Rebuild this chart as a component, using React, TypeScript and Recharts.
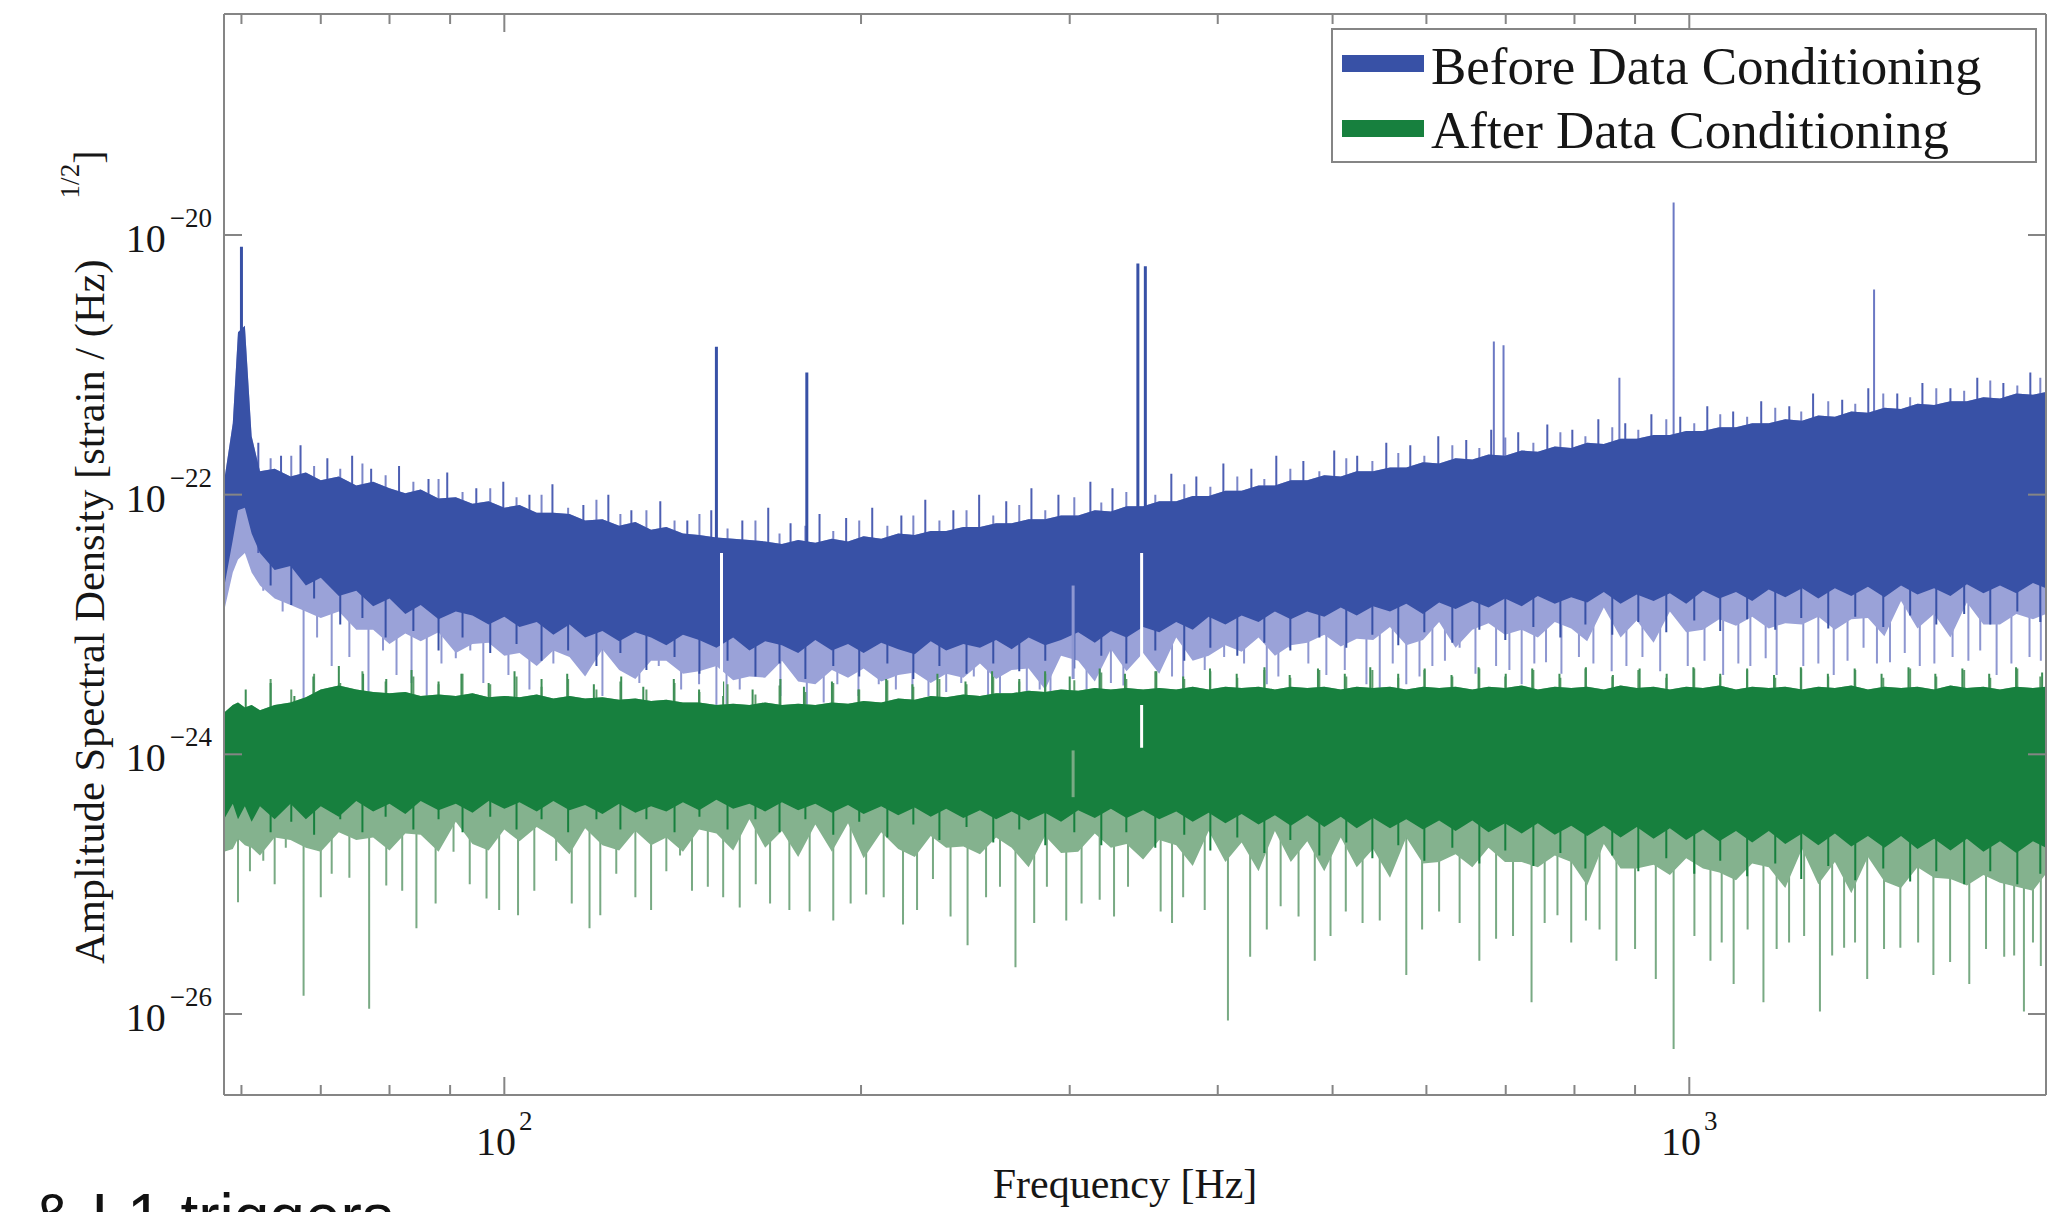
import React from 'react';
import { ComposedChart, Area, Line, XAxis, YAxis, Legend } from 'recharts';

// ---------- data (exponents of the amplitude spectral density) ----------
const FREQ = [58, 59, 59.6, 60.4, 61.2, 62.2, 64, 66, 68, 70,
  72.5, 75, 77.5, 80, 82.5, 85, 88, 91, 94, 97,
  100, 103, 106.5, 110, 113.5, 117, 121, 125, 129, 133,
  137, 141.5, 146, 151, 156, 161, 166, 171.5, 177, 183,
  189, 195, 201, 208, 215, 222, 229, 236, 244, 252,
  260, 268, 277, 286, 295, 305, 315, 325, 335, 346,
  357, 369, 381, 393, 406, 419, 433, 447, 461, 476,
  492, 508, 524, 541, 559, 577, 596, 615, 635, 656,
  677, 699, 722, 745, 770, 795, 820, 847, 875, 903,
  933, 963, 994, 1027, 1060, 1095, 1130, 1167, 1205, 1245,
  1285, 1327, 1370, 1415, 1461, 1509, 1558, 1609, 1661, 1715,
  1771, 1829, 1888, 1950, 2000];

const BLUE_HI = [-21.9, -21.45, -20.75, -20.7, -21.55, -21.82, -21.8, -21.86, -21.83, -21.89,
  -21.86, -21.93, -21.9, -21.95, -21.99, -21.96, -22.03, -22.02, -22.07, -22.05,
  -22.1, -22.08, -22.14, -22.14, -22.15, -22.2, -22.19, -22.24, -22.21, -22.27,
  -22.25, -22.3, -22.31, -22.33, -22.34, -22.35, -22.36, -22.38, -22.35, -22.37,
  -22.34, -22.36, -22.32, -22.34, -22.3, -22.31, -22.28, -22.28, -22.25, -22.25,
  -22.22, -22.22, -22.19, -22.19, -22.16, -22.16, -22.12, -22.13, -22.09, -22.09,
  -22.05, -22.05, -22.01, -22.01, -21.97, -21.97, -21.93, -21.93, -21.89, -21.89,
  -21.85, -21.86, -21.82, -21.82, -21.79, -21.79, -21.75, -21.76, -21.72, -21.73,
  -21.69, -21.7, -21.66, -21.67, -21.63, -21.64, -21.6, -21.61, -21.57, -21.57,
  -21.54, -21.54, -21.51, -21.51, -21.48, -21.48, -21.45, -21.45, -21.42, -21.43,
  -21.39, -21.4, -21.36, -21.37, -21.33, -21.34, -21.3, -21.31, -21.28, -21.28,
  -21.25, -21.26, -21.22, -21.23, -21.21];

const BLUE_LO = [-22.72, -22.35, -22.12, -22.1, -22.3, -22.45, -22.58, -22.55, -22.7, -22.64,
  -22.78, -22.74, -22.86, -22.8, -22.92, -22.85, -22.96, -22.9, -22.93, -23.0,
  -22.94, -23.02, -22.98, -23.08, -23.0, -23.1, -23.05, -23.13, -23.06, -23.1,
  -23.16, -23.08, -23.12, -23.18, -23.1, -23.2, -23.13, -23.16, -23.22, -23.12,
  -23.2, -23.15, -23.22, -23.14, -23.19, -23.23, -23.13, -23.2, -23.15, -23.18,
  -23.12, -23.19, -23.1, -23.16, -23.12, -23.06, -23.14, -23.05, -23.1, -23.02,
  -23.06, -22.98, -23.04, -22.94, -23.0, -22.93, -22.98, -22.9, -22.96, -22.9,
  -22.94, -22.87, -22.93, -22.86, -22.9, -22.84, -22.92, -22.83, -22.88, -22.82,
  -22.87, -22.8, -22.86, -22.78, -22.84, -22.79, -22.83, -22.75, -22.84, -22.77,
  -22.82, -22.76, -22.84, -22.74, -22.8, -22.75, -22.82, -22.73, -22.79, -22.72,
  -22.8, -22.72, -22.78, -22.71, -22.79, -22.7, -22.77, -22.72, -22.78, -22.69,
  -22.76, -22.7, -22.76, -22.68, -22.72];

const BLUE_FLOOR = [-22.9, -22.6, -22.5, -22.45, -22.6, -22.7, -22.8, -22.85, -22.9, -22.95,
  -22.9, -23.04, -23.04, -23.15, -23.07, -23.13, -23.06, -23.22, -23.15, -23.14,
  -23.24, -23.22, -23.32, -23.2, -23.25, -23.4, -23.19, -23.35, -23.42, -23.28,
  -23.28, -23.38, -23.36, -23.32, -23.43, -23.4, -23.41, -23.28, -23.44, -23.46,
  -23.35, -23.41, -23.34, -23.44, -23.39, -23.37, -23.45, -23.38, -23.41, -23.3,
  -23.42, -23.35, -23.34, -23.5, -23.24, -23.28, -23.44, -23.19, -23.36, -23.22,
  -23.38, -23.1, -23.28, -23.24, -23.16, -23.21, -23.1, -23.24, -23.16, -23.14,
  -23.08, -23.17, -23.11, -23.12, -23.02, -23.16, -23.12, -22.98, -23.18, -23.04,
  -22.99, -23.08, -23.04, -23.1, -22.98, -23.03, -23.13, -22.87, -23.1, -22.97,
  -23.14, -22.9, -23.06, -23.04, -22.96, -23.01, -22.94, -23.03, -22.99, -23.0,
  -22.94, -23.04, -22.96, -22.95, -23.09, -22.82, -23.03, -22.92, -23.1, -22.83,
  -23.0, -23.0, -22.92, -22.96, -22.92];

const GREEN_HI = [-23.68, -23.62, -23.6, -23.64, -23.62, -23.66, -23.62, -23.6, -23.56, -23.5,
  -23.47, -23.5, -23.52, -23.53, -23.52, -23.55, -23.54, -23.55, -23.53, -23.56,
  -23.55, -23.56, -23.54, -23.57, -23.55, -23.57, -23.56, -23.58, -23.57, -23.59,
  -23.58, -23.6, -23.6, -23.62, -23.61, -23.62, -23.6, -23.62, -23.61, -23.62,
  -23.6, -23.61, -23.59, -23.6, -23.57, -23.58, -23.55, -23.56, -23.54, -23.55,
  -23.53, -23.53, -23.51, -23.52, -23.5, -23.51, -23.49, -23.5, -23.49, -23.5,
  -23.49, -23.5, -23.48, -23.5, -23.48, -23.49, -23.48, -23.5, -23.48, -23.49,
  -23.48, -23.5, -23.48, -23.49, -23.48, -23.5, -23.48, -23.49, -23.48, -23.5,
  -23.48, -23.49, -23.47, -23.5, -23.48, -23.49, -23.48, -23.5, -23.47, -23.49,
  -23.48, -23.5, -23.48, -23.49, -23.47, -23.5, -23.48, -23.49, -23.48, -23.5,
  -23.48, -23.49, -23.47, -23.5, -23.48, -23.49, -23.48, -23.5, -23.47, -23.49,
  -23.48, -23.5, -23.48, -23.49, -23.48];

const GREEN_LO = [-24.5, -24.38, -24.5, -24.4, -24.52, -24.4, -24.5, -24.38, -24.5, -24.4,
  -24.48, -24.36, -24.44, -24.38, -24.46, -24.36, -24.43, -24.38, -24.45, -24.36,
  -24.42, -24.37, -24.44, -24.36, -24.43, -24.39, -24.46, -24.38, -24.45, -24.4,
  -24.44, -24.37, -24.43, -24.35, -24.42, -24.38, -24.44, -24.37, -24.43, -24.38,
  -24.45, -24.39, -24.46, -24.4, -24.47, -24.41, -24.48, -24.42, -24.49, -24.43,
  -24.5, -24.44, -24.51, -24.45, -24.52, -24.43, -24.49, -24.42, -24.49, -24.43,
  -24.5, -24.44, -24.52, -24.45, -24.53, -24.46, -24.54, -24.47, -24.55, -24.47,
  -24.56, -24.48, -24.57, -24.49, -24.57, -24.5, -24.58, -24.51, -24.59, -24.51,
  -24.6, -24.53, -24.61, -24.53, -24.62, -24.55, -24.63, -24.55, -24.64, -24.56,
  -24.65, -24.57, -24.66, -24.58, -24.67, -24.59, -24.68, -24.59, -24.69, -24.61,
  -24.7, -24.61, -24.71, -24.63, -24.72, -24.63, -24.73, -24.65, -24.74, -24.65,
  -24.75, -24.67, -24.76, -24.67, -24.72];

const GREEN_FLOOR = [-24.75, -24.73, -24.65, -24.7, -24.72, -24.78, -24.64, -24.66, -24.72, -24.75,
  -24.6, -24.66, -24.64, -24.74, -24.61, -24.62, -24.75, -24.52, -24.69, -24.74,
  -24.58, -24.67, -24.56, -24.64, -24.77, -24.57, -24.7, -24.74, -24.59, -24.7,
  -24.64, -24.75, -24.58, -24.61, -24.74, -24.5, -24.72, -24.59, -24.79, -24.54,
  -24.75, -24.53, -24.8, -24.6, -24.73, -24.79, -24.63, -24.72, -24.71, -24.77,
  -24.64, -24.72, -24.87, -24.63, -24.76, -24.75, -24.61, -24.72, -24.69, -24.81,
  -24.66, -24.7, -24.86, -24.59, -24.83, -24.68, -24.9, -24.59, -24.83, -24.67,
  -24.9, -24.64, -24.87, -24.73, -24.95, -24.64, -24.84, -24.83, -24.77, -24.87,
  -24.72, -24.83, -24.83, -24.87, -24.78, -24.83, -25.01, -24.69, -24.88, -24.88,
  -24.85, -24.93, -24.8, -24.88, -24.91, -24.97, -24.84, -24.87, -25.03, -24.73,
  -25.0, -24.83, -25.07, -24.79, -24.98, -25.03, -24.87, -24.95, -24.96, -25.01,
  -24.93, -24.99, -25.02, -25.05, -24.92];

// thin fringe lines (frequency Hz, tip exponent)
const BLUE_UP_F = [62, 64.8, 67.3, 70.9, 74.4, 77.2, 81.5, 86.3, 89.5, 94.7,
  99.8, 105, 109.8, 116.6, 122.4, 128, 135.4, 142.7, 149.5, 158.8,
  167, 174.4, 184.5, 194.3, 204.4, 216.3, 226.6, 239.3, 251.6, 265.2,
  278.5, 293.5, 312.3, 326, 365.5, 383.7, 404.4, 427, 448.2, 472.4,
  501.6, 524.5, 555, 581.5, 614, 648.3, 680.5, 717.2, 758.9, 796.7,
  838, 883, 929, 982.6, 1035.6, 1089, 1150, 1214.5, 1272, 1346,
  1416, 1498, 1573, 1661, 1750, 1841, 1940];
const BLUE_UP_TIP = [-21.6, -21.7, -21.62, -21.72, -21.7, -21.8, -21.78, -21.88, -21.83, -21.95,
  -21.9, -22.0, -21.92, -22.08, -22.0, -22.12, -22.05, -22.2, -22.12, -22.2,
  -22.1, -22.22, -22.15, -22.18, -22.1, -22.16, -22.04, -22.12, -22.0, -22.05,
  -21.95, -22.0, -21.9, -21.95, -21.84, -21.86, -21.76, -21.8, -21.7, -21.74,
  -21.66, -21.7, -21.6, -21.62, -21.55, -21.58, -21.5, -21.52, -21.46, -21.5,
  -21.42, -21.45, -21.38, -21.4, -21.32, -21.36, -21.28, -21.32, -21.22, -21.27,
  -21.18, -21.22, -21.14, -21.18, -21.1, -21.14, -21.06];

const FRINGE_F2 = [63.5, 66.1, 69.1, 72.7, 75.9, 79.4, 83.8, 88, 92.2, 97.3,
  102.4, 107.5, 113.2, 119.6, 125.3, 131.8, 139.2, 146.1, 154.3, 162.9,
  170.7, 179.5, 189.5, 199.3, 210.5, 221.4, 232.9, 245.5, 258.6, 272,
  286.1, 302.7, 319, 334.9, 354.3, 374.8, 394.3, 415.5, 437.9, 460.6,
  487.3, 513.5, 540.2, 568.1, 597.6, 631, 665, 699.4, 738.6, 778.4,
  817.2, 861, 905.7, 956.3, 1009.7, 1062, 1119, 1181.8, 1243, 1310,
  1380.6, 1457.8, 1536, 1616, 1706, 1794.7, 1891.6, 1978];
const BLUE_UP2_TIP = [-21.72, -21.7, -21.78, -21.8, -21.76, -21.85, -21.9, -21.88, -21.98, -21.95,
  -22.02, -22.0, -22.1, -22.04, -22.15, -22.12, -22.2, -22.15, -22.26, -22.2,
  -22.3, -22.24, -22.28, -22.2, -22.24, -22.16, -22.2, -22.12, -22.16, -22.08,
  -22.12, -22.02, -22.06, -21.98, -22.0, -21.92, -21.94, -21.86, -21.88, -21.8,
  -21.82, -21.72, -21.74, -21.68, -21.7, -21.62, -21.64, -21.56, -21.6, -21.52,
  -21.55, -21.48, -21.5, -21.42, -21.45, -21.38, -21.4, -21.33, -21.36, -21.28,
  -21.3, -21.22, -21.25, -21.18, -21.2, -21.12, -21.16, -21.1];
const BLUE_DDOWN_TIP = [-22.7, -22.85, -22.8, -23.0, -22.95, -23.1, -23.05, -23.2, -23.1, -23.22,
  -23.15, -23.28, -23.2, -23.32, -23.22, -23.35, -23.25, -23.38, -23.28, -23.4,
  -23.3, -23.42, -23.32, -23.4, -23.3, -23.42, -23.32, -23.38, -23.3, -23.36,
  -23.28, -23.34, -23.24, -23.3, -23.2, -23.28, -23.18, -23.24, -23.14, -23.2,
  -23.1, -23.18, -23.08, -23.16, -23.06, -23.14, -23.04, -23.12, -23.02, -23.1,
  -23.0, -23.08, -22.98, -23.06, -22.97, -23.05, -22.96, -23.04, -22.95, -23.03,
  -22.94, -23.02, -22.93, -23.0, -22.92, -23.0, -22.9, -22.98];
const GREEN_UP2_TIP = [-23.42, -23.5, -23.38, -23.45, -23.36, -23.44, -23.4, -23.46, -23.38, -23.46,
  -23.4, -23.48, -23.42, -23.5, -23.44, -23.5, -23.45, -23.52, -23.46, -23.54,
  -23.47, -23.52, -23.45, -23.5, -23.43, -23.48, -23.42, -23.46, -23.4, -23.44,
  -23.38, -23.43, -23.37, -23.42, -23.36, -23.42, -23.36, -23.41, -23.35, -23.41,
  -23.35, -23.4, -23.35, -23.41, -23.35, -23.4, -23.34, -23.4, -23.35, -23.41,
  -23.34, -23.4, -23.35, -23.41, -23.34, -23.4, -23.35, -23.41, -23.34, -23.4,
  -23.35, -23.41, -23.34, -23.4, -23.35, -23.41, -23.34, -23.4];
const GREEN_DDOWN_TIP = [-24.6, -24.52, -24.62, -24.5, -24.6, -24.48, -24.58, -24.5, -24.6, -24.48,
  -24.58, -24.5, -24.6, -24.5, -24.58, -24.5, -24.6, -24.48, -24.58, -24.5,
  -24.6, -24.5, -24.62, -24.52, -24.64, -24.54, -24.66, -24.56, -24.68, -24.58,
  -24.7, -24.6, -24.7, -24.6, -24.72, -24.62, -24.74, -24.64, -24.76, -24.66,
  -24.78, -24.68, -24.8, -24.7, -24.82, -24.72, -24.84, -24.74, -24.86, -24.76,
  -24.88, -24.78, -24.9, -24.8, -24.92, -24.82, -24.94, -24.84, -24.96, -24.86,
  -24.97, -24.88, -24.98, -24.9, -25.0, -24.9, -25.0, -24.92];

const BLUE_DOWN_F = [62.6, 65, 67.7, 71.5, 76.8, 81.1, 86, 91, 93.6, 100.8,
  117, 125, 135, 146, 151, 154, 164, 180, 191, 207,
  221, 236, 249, 262, 276, 289, 302, 318, 333, 358,
  374, 405, 440, 460, 494, 534, 548, 577, 607, 640,
  687, 722, 757, 807, 860, 913, 997, 1068, 1126, 1185,
  1248, 1324, 1403, 1477, 1565, 1668, 1817, 1937,
  69.5, 74, 79, 83.5, 88.5, 96, 105, 110, 121, 130,
  141, 158, 171, 186, 199, 214, 228, 243, 256, 283,
  310, 325, 366, 390, 421, 450, 477, 512, 562, 592,
  622, 660, 705, 740, 780, 830, 885, 945, 1030, 1100,
  1160, 1285, 1360, 1440, 1520, 1610, 1720, 1760, 1870, 1980];
const BLUE_DOWN_TIP = [-22.74, -22.9, -23.81, -23.32, -23.68, -23.39, -23.58, -23.26, -23.2, -23.39,
  -23.39, -23.32, -23.32, -23.46, -23.9, -23.62, -23.39, -23.72, -23.46, -23.46,
  -23.59, -23.52, -23.4, -23.69, -23.58, -23.65, -23.4, -23.5, -23.47, -23.25,
  -23.53, -23.25, -23.46, -23.18, -23.39, -23.46, -23.53, -23.46, -23.32, -23.18,
  -23.32, -23.46, -23.29, -23.25, -23.36, -23.25, -23.32, -23.39, -23.32, -23.39,
  -23.32, -23.39, -23.18, -23.29, -23.32, -23.25, -23.39, -23.25,
  -23.1, -23.25, -23.2, -23.45, -23.3, -23.45, -23.5, -23.3, -23.55, -23.45,
  -23.5, -23.5, -23.55, -23.6, -23.55, -23.5, -23.55, -23.45, -23.6, -23.5,
  -23.55, -23.45, -23.4, -23.35, -23.3, -23.4, -23.3, -23.35, -23.3, -23.4,
  -23.28, -23.38, -23.35, -23.3, -23.38, -23.3, -23.32, -23.36, -23.28, -23.3,
  -23.26, -23.3, -23.28, -23.3, -23.22, -23.3, -23.28, -23.2, -23.3, -23.28];

const GREEN_UP_F = [60.5, 63.5, 66.5, 69, 72.5, 76, 79.5, 83.5, 88, 92,
  97, 102, 107.5, 113, 119, 125.5, 131, 139, 146, 153,
  162, 171, 179, 189, 199, 210, 221, 232, 245, 258,
  272, 286, 300, 318, 334, 355, 374, 394, 415, 438,
  460, 486, 512, 538, 568, 598, 630, 664, 700, 737,
  777, 818, 862, 908, 957, 1008, 1062, 1119, 1179, 1242,
  1309, 1379, 1453, 1531, 1613, 1700, 1791, 1887, 1985];
const GREEN_UP_TIP = [-23.5, -23.45, -23.55, -23.4, -23.32, -23.38, -23.42, -23.35, -23.44, -23.38,
  -23.45, -23.36, -23.42, -23.38, -23.46, -23.4, -23.48, -23.42, -23.5, -23.44,
  -23.5, -23.42, -23.48, -23.44, -23.5, -23.42, -23.46, -23.38, -23.44, -23.36,
  -23.42, -23.36, -23.4, -23.34, -23.38, -23.36, -23.4, -23.34, -23.38, -23.33,
  -23.39, -23.34, -23.38, -23.33, -23.38, -23.34, -23.39, -23.33, -23.38, -23.34,
  -23.38, -23.33, -23.39, -23.34, -23.38, -23.33, -23.38, -23.34, -23.39, -23.33,
  -23.38, -23.34, -23.38, -23.33, -23.38, -23.34, -23.38, -23.33, -23.37];

const GREEN_DOWN_F = [59.6, 62.6, 65.4, 67.7, 71.5, 76.9, 79.5, 84.3, 90.6, 96.6,
  102.7, 110.6, 118, 120.5, 124.3, 137, 140.7, 148.5, 158, 167.6,
  181, 189.5, 202, 217, 230, 246, 262, 270, 287, 298,
  318, 336, 358, 374, 408, 426, 452, 483, 513, 548,
  577, 615, 665, 687, 736, 774, 818, 868, 937, 970,
  1042, 1090, 1155, 1214, 1289, 1351, 1413, 1507, 1607, 1723,
  1844, 1916, 1980,
  61, 64, 70, 74, 82, 87.5, 93.5, 99, 106, 114,
  129, 133, 144, 153, 163, 174, 196, 209, 223, 238,
  255, 280, 307, 327, 366, 390, 440, 468, 498, 530,
  595, 640, 710, 755, 795, 840, 900, 1010, 1065, 1120,
  1185, 1250, 1320, 1380, 1460, 1560, 1660, 1780, 1880, 1950];
const GREEN_DOWN_TIP = [-25.14, -24.82, -24.72, -25.86, -24.92, -25.96, -25.01, -25.34, -24.75, -25.11,
  -25.24, -24.82, -25.34, -25.24, -24.92, -24.9, -24.78, -25.02, -25.18, -25.15,
  -25.21, -25.28, -25.08, -25.31, -24.96, -25.47, -25.02, -25.64, -25.02, -25.28,
  -25.12, -25.02, -25.21, -25.1, -26.05, -25.56, -25.17, -25.59, -25.21, -25.28,
  -25.7, -25.21, -25.59, -25.42, -25.91, -25.24, -25.28, -25.59, -25.73, -26.27,
  -25.59, -25.77, -25.91, -25.45, -25.98, -25.49, -25.73, -25.49, -25.7, -25.77,
  -25.56, -25.98, -25.63,
  -24.9, -25.0, -25.1, -24.95, -25.05, -25.15, -25.0, -25.2, -25.05, -25.15,
  -25.1, -25.2, -25.05, -25.1, -25.0, -25.2, -25.15, -25.1, -25.2, -25.25,
  -25.1, -25.3, -25.15, -25.25, -25.3, -25.2, -25.35, -25.25, -25.4, -25.3,
  -25.35, -25.3, -25.4, -25.3, -25.45, -25.35, -25.5, -25.4, -25.45, -25.35,
  -25.5, -25.4, -25.55, -25.45, -25.5, -25.45, -25.6, -25.5, -25.55, -25.45];

// narrow line features of the "before" spectrum
const BLUE_LINE_F = [60, 151, 180, 342.5, 347.5];
const BLUE_LINE_BASE = [-21.2, -22.45, -22.45, -22.45, -22.45];
const BLUE_LINE_TIP = [-20.09, -20.86, -21.06, -20.22, -20.24];
const BLUE_FAINT_F = [684, 697, 873, 970, 1432];
const BLUE_FAINT_BASE = [-22.0, -22.0, -22.0, -22.0, -22.0];
const BLUE_FAINT_TIP = [-20.82, -20.85, -21.1, -19.75, -20.42];

// notches (white gaps) and pale lines: frequency, upper, lower exponent
const NOTCH_F = [152.5, 345, 345];
const NOTCH_TOP = [-22.45, -22.45, -23.62];
const NOTCH_BOTTOM = [-23.55, -23.35, -23.95];
const PALE_BLUE_F = [302];
const PALE_BLUE_TOP = [-22.7];
const PALE_BLUE_BOTTOM = [-23.42];
const PALE_GREEN_F = [302];
const PALE_GREEN_TOP = [-23.97];
const PALE_GREEN_BOTTOM = [-24.33];

const X_TICKS = [60, 70, 80, 90, 100, 200, 300, 400, 500, 600, 700, 800, 900, 1000, 2000];
const X_MAJOR = [100, 1000];
const X_MAJOR_EXP = ['2', '3'];
const Y_TICK_EXP = [-26, -24, -22, -20];
const Y_TICK_LABEL = ['\u221226', '\u221224', '\u221222', '\u221220'];

const SERIES_NAMES = ['Before Data Conditioning', 'After Data Conditioning'];

// ---------- styles ----------
const BLUE = '#3851a6';
const BLUE_MID = '#4d5fb3';
const BLUE_BAND = '#9aa2d8';
const BLUE_LIGHT = '#8e97d1';
const BLUE_TIP = '#7b86c8';
const BLUE_FAINT = '#6c79c4';
const GREEN = '#17803e';
const GREEN_MID = '#3d8f55';
const GREEN_TIP = '#5c9e6c';
const GREEN_BAND = '#84b28e';
const GREEN_LIGHT = '#79aa84';
const AXIS = '#858585';
const TEXT = '#161616';
const SERIF = '"Liberation Serif", "Times New Roman", serif';
const SANS = '"Liberation Sans", Arial, sans-serif';
const X_DOMAIN = [58, 2000];
const Y_DOMAIN_EXP = [-26.624, -18.298];

const toV = (e: number) => Math.pow(10, e);

const bandRows = (lo: number[], hi: number[]) => FREQ.map((f, i) => ({ f, r: [toV(lo[i]), toV(hi[i])] }));
const segRows = (fs: number[], a: number[] | number, b: number[]) => {
  const rows: any[] = [];
  fs.forEach((f, i) => {
    const start = Array.isArray(a) ? a[i] : a;
    rows.push({ f, v: toV(start) });
    rows.push({ f, v: toV(b[i]) });
    rows.push({ f, v: null });
  });
  return rows;
};

const blueBand = bandRows(BLUE_FLOOR, BLUE_HI);
const blueCore = bandRows(BLUE_LO, BLUE_HI);
const greenBand = bandRows(GREEN_FLOOR, GREEN_HI);
const greenCore = bandRows(GREEN_LO, GREEN_HI);
const blueUp = segRows(BLUE_UP_F, -22.45, BLUE_UP_TIP);
const blueUp2 = segRows(FRINGE_F2, -22.45, BLUE_UP2_TIP);
const blueDDown = segRows(FRINGE_F2, -22.45, BLUE_DDOWN_TIP);
const blueDown = segRows(BLUE_DOWN_F, -22.7, BLUE_DOWN_TIP);
const greenUp = segRows(GREEN_UP_F, -24.0, GREEN_UP_TIP);
const greenUp2 = segRows(FRINGE_F2, -24.0, GREEN_UP2_TIP);
const greenDDown = segRows(FRINGE_F2, -24.2, GREEN_DDOWN_TIP);
const greenDown = segRows(GREEN_DOWN_F, -24.3, GREEN_DOWN_TIP);
const blueLines = segRows(BLUE_LINE_F, BLUE_LINE_BASE, BLUE_LINE_TIP);
const blueFaint = segRows(BLUE_FAINT_F, BLUE_FAINT_BASE, BLUE_FAINT_TIP);
const notches = segRows(NOTCH_F, NOTCH_TOP, NOTCH_BOTTOM);
const paleBlue = segRows(PALE_BLUE_F, PALE_BLUE_TOP, PALE_BLUE_BOTTOM);
const paleGreen = segRows(PALE_GREEN_F, PALE_GREEN_TOP, PALE_GREEN_BOTTOM);

// ---------- ticks & labels ----------
const BottomTick = (p: any) => {
  const { x, y, payload } = p;
  const mi = X_MAJOR.indexOf(payload.value);
  const len = mi >= 0 ? 18 : 10;
  return (
    <g>
      <line x1={x} x2={x} y1={y} y2={y - len} stroke={AXIS} strokeWidth={2} />
      {mi >= 0 && (
        <text x={x} y={y + 60} textAnchor="middle" fontFamily={SERIF} fontSize={40} fill={TEXT}>
          10<tspan dx={3} dy={-25} fontSize={27}>{X_MAJOR_EXP[mi]}</tspan>
        </text>
      )}
    </g>
  );
};
const TopTick = (p: any) => {
  const { x, y, payload } = p;
  const len = X_MAJOR.indexOf(payload.value) >= 0 ? 18 : 10;
  return <line x1={x} x2={x} y1={y} y2={y + len} stroke={AXIS} strokeWidth={2} />;
};
const LeftTick = (p: any) => {
  const { x, y, index } = p;
  return (
    <g>
      <line x1={x} x2={x + 18} y1={y} y2={y} stroke={AXIS} strokeWidth={2} />
      <text x={x - 12} y={y + 17} textAnchor="end" fontFamily={SERIF} fontSize={40} fill={TEXT}>
        10<tspan dx={4} dy={-25} fontSize={27}>{Y_TICK_LABEL[index]}</tspan>
      </text>
    </g>
  );
};
const RightTick = (p: any) => {
  const { x, y } = p;
  return <line x1={x} x2={x - 18} y1={y} y2={y} stroke={AXIS} strokeWidth={2} />;
};

const XTitle = () => (
  <text x={1125} y={1198} textAnchor="middle" fontFamily={SERIF} fontSize={42} fill={TEXT}>
    Frequency [Hz]
  </text>
);
const YTitle = () => (
  <text x={104} y={964} transform="rotate(-90 104 964)" fontFamily={SERIF} fontSize={42.5} fill={TEXT}>
    Amplitude Spectral Density [strain / (Hz)
    <tspan dx={61} dy={-25} fontSize={27}>1/2</tspan>
    <tspan dy={23} fontSize={40}>]</tspan>
  </text>
);

const LegendBox = () => (
  <svg width={706} height={135} style={{ display: 'block' }}>
    <rect x={1} y={1} width={704} height={133} fill="#fff" stroke={AXIS} strokeWidth={2} />
    <rect x={11} y={27} width={82} height={17} fill={BLUE} />
    <text x={100} y={56} fontFamily={SERIF} fontSize={53} fill={TEXT}>{SERIES_NAMES[0]}</text>
    <rect x={11} y={92} width={82} height={17} fill={GREEN} />
    <text x={100} y={120} fontFamily={SERIF} fontSize={53} fill={TEXT}>{SERIES_NAMES[1]}</text>
  </svg>
);

const yDomain = [toV(Y_DOMAIN_EXP[0]), toV(Y_DOMAIN_EXP[1])];
const yTicks = Y_TICK_EXP.map(toV);

export default function App() {
  let z = 100;
  const common = { isAnimationActive: false, xAxisId: 'b', yAxisId: 'l' } as any;
  const seg = (data: any[], color: string, w: number) => (
    <Line {...common} zIndex={z++} data={data} dataKey="v" stroke={color} strokeWidth={w} dot={false} activeDot={false} legendType="none" />
  );
  const band = (data: any[], color: string) => (
    <Area {...common} zIndex={z++} data={data} dataKey="r" stroke="none" fill={color} fillOpacity={1} activeDot={false} legendType="none" />
  );
  return (
    <div style={{ position: 'fixed', left: 0, top: 0, width: 2048, height: 1212, overflow: 'hidden', background: '#fff' }}>
      <ComposedChart width={2048} height={1212} margin={{ top: 13, right: 1, bottom: 116, left: 223 }}>
        <XAxis xAxisId="b" dataKey="f" type="number" scale="log" domain={X_DOMAIN} allowDataOverflow
          ticks={X_TICKS} interval={0} tick={BottomTick} tickLine={false} tickSize={0} tickMargin={0}
          height={1} axisLine={{ stroke: AXIS, strokeWidth: 2 }} label={<XTitle />} />
        <XAxis xAxisId="t" orientation="top" dataKey="f" type="number" scale="log" domain={X_DOMAIN} allowDataOverflow
          ticks={X_TICKS} interval={0} tick={TopTick} tickLine={false} tickSize={0} tickMargin={0}
          height={1} axisLine={{ stroke: AXIS, strokeWidth: 2 }} />
        <YAxis yAxisId="l" type="number" scale="log" domain={yDomain} allowDataOverflow
          ticks={yTicks} interval={0} tick={LeftTick} tickLine={false} tickSize={0} tickMargin={0}
          width={1} axisLine={{ stroke: AXIS, strokeWidth: 2 }} label={<YTitle />} />
        <YAxis yAxisId="r" orientation="right" type="number" scale="log" domain={yDomain} allowDataOverflow
          ticks={yTicks} interval={0} tick={RightTick} tickLine={false} tickSize={0} tickMargin={0}
          width={1} axisLine={{ stroke: AXIS, strokeWidth: 2 }} />

        {seg(blueDown, BLUE_LIGHT, 2)}
        {band(blueBand, BLUE_BAND)}
        {seg(blueDDown, BLUE, 2)}
        {seg(blueUp2, BLUE_TIP, 2)}
        {seg(blueUp, BLUE_MID, 2)}
        {seg(blueFaint, BLUE_FAINT, 2)}
        {seg(blueLines, BLUE, 3)}
        {band(blueCore, BLUE)}
        {seg(paleBlue, BLUE_LIGHT, 3)}
        {seg(greenDown, GREEN_LIGHT, 2)}
        {band(greenBand, GREEN_BAND)}
        {seg(greenDDown, GREEN, 2)}
        {seg(greenUp2, GREEN_TIP, 2)}
        {seg(greenUp, GREEN_MID, 2)}
        {band(greenCore, GREEN)}
        {seg(paleGreen, GREEN_LIGHT, 3)}
        {seg(notches, '#ffffff', 3)}

        <Legend layout="vertical" align="center" verticalAlign="middle" content={() => <LegendBox />}
          wrapperStyle={{ position: 'absolute', left: 1331, top: 28, width: 706, height: 135, margin: 0, padding: 0, lineHeight: 0 }} />
      </ComposedChart>
      <svg width={2048} height={1212} style={{ position: 'absolute', left: 0, top: 0, pointerEvents: 'none' }}>
        <text x={31} y={1239} fontFamily={SANS} fontSize={64} fill="#111">&amp; L1 triggers</text>
      </svg>
    </div>
  );
}
